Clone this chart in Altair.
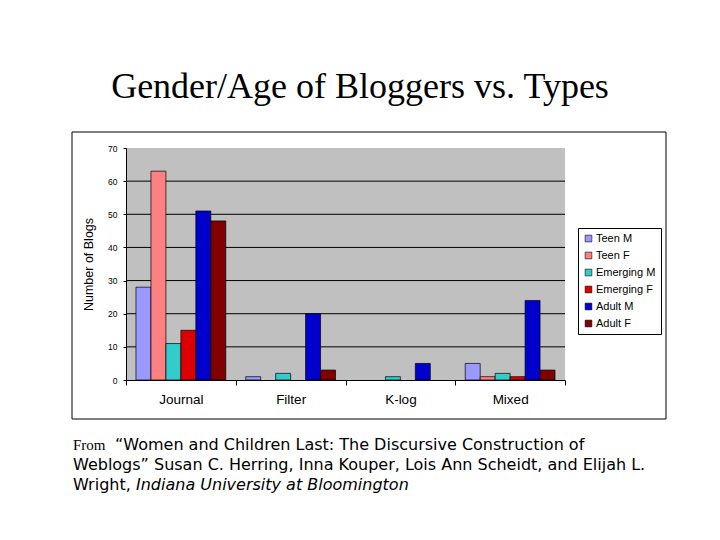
import altair as alt
import pandas as pd

categories = ["Journal", "Filter", "K-log", "Mixed"]
series = ["Teen M", "Teen F", "Emerging M", "Emerging F", "Adult M", "Adult F"]
teen_m = [28, 1, 0, 5]
teen_f = [63, 0, 0, 1]
emerging_m = [11, 2, 1, 2]
emerging_f = [15, 0, 0, 1]
adult_m = [51, 20, 5, 24]
adult_f = [48, 3, 0, 3]
colors = ["#9999FF", "#FF8080", "#33CCCC", "#DD0000", "#0000CC", "#800000"]
grid_values = [10, 20, 30, 40, 50, 60]
y_ticks = [0, 10, 20, 30, 40, 50, 60, 70]

title_text = "Gender/Age of Bloggers vs. Types"
caption_from = "From"
caption_1 = "\u201cWomen and Children Last: The Discursive Construction of"
caption_2 = "Weblogs\u201d Susan C. Herring, Inna Kouper, Lois Ann Scheidt, and Elijah L."
caption_3a = "Wright,"
caption_3b = "Indiana University at Bloomington"

rows = []
for s, vals in zip(series, [teen_m, teen_f, emerging_m, emerging_f, adult_m, adult_f]):
    for c, v in zip(categories, vals):
        rows.append({"type": c, "group": s, "value": v})
df = pd.DataFrame(rows)

W, H = 439, 232
yscale = alt.Scale(domain=[0, 70], nice=False)

y_axis = alt.Axis(title="Number of Blogs", values=y_ticks, grid=False,
                  labelOverlap=False, labelFlush=False,
                  labelFont="Liberation Sans", labelFontSize=8.5,
                  labelColor="black", titleFont="Liberation Sans",
                  titleFontSize=12.5, titleFontWeight="normal",
                  titleColor="black", titlePadding=12,
                  domainColor="black", tickColor="black", tickSize=3,
                  labelPadding=6, zindex=1)

frame = alt.Chart(alt.Data(values=[{}])).mark_rect(
    fill="white", stroke="black", strokeWidth=1
).encode(x=alt.value(-54), x2=alt.value(540), y=alt.value(-16), y2=alt.value(271))

plotbg = alt.Chart(alt.Data(values=[{}])).mark_rect(fill="#C0C0C0").encode(
    x=alt.value(0), x2=alt.value(W), y=alt.value(0), y2=alt.value(H)
)

grid = alt.Chart(pd.DataFrame({"g": grid_values})).mark_rule(
    color="black", strokeWidth=1
).encode(y=alt.Y("g:Q", scale=yscale, axis=y_axis), x=alt.value(0), x2=alt.value(W))

bars = alt.Chart(df).transform_filter("datum.value > 0").mark_bar(
    stroke="black", strokeWidth=0.7
).encode(
    x=alt.X("type:N", sort=categories,
            scale=alt.Scale(paddingInner=0, paddingOuter=0),
            axis=alt.Axis(title=None, labelAngle=0, tickBand="extent",
                          labelFont="Liberation Sans", labelFontSize=13.5,
                          labelColor="black", labelPadding=7,
                          domainColor="black", tickColor="black", tickSize=5,
                          zindex=1)),
    xOffset=alt.XOffset("group:N", sort=series,
                        scale=alt.Scale(paddingInner=0, paddingOuter=0.667)),
    y=alt.Y("value:Q", scale=yscale, axis=y_axis),
    color=alt.Color("group:N", sort=series,
                    scale=alt.Scale(domain=series, range=colors),
                    legend=alt.Legend(orient="none", legendX=452, legendY=80,
                                      title=None, strokeColor="black",
                                      fillColor="white", padding=5,
                                      symbolType="square", symbolSize=45,
                                      symbolStrokeColor="black",
                                      symbolStrokeWidth=0.6, symbolOpacity=1,
                                      labelFont="Liberation Sans",
                                      labelFontSize=11, labelColor="black",
                                      rowPadding=5, labelOffset=2)),
)

title = alt.Chart(alt.Data(values=[{"t": title_text}])).mark_text(
    font="Liberation Serif", fontSize=36, color="black", align="center",
    baseline="alphabetic"
).encode(text="t:N", x=alt.value(234), y=alt.value(-50))

cap_from = alt.Chart(alt.Data(values=[{"t": caption_from}])).mark_text(
    font="Liberation Serif", fontSize=15, color="black", align="left",
    baseline="alphabetic"
).encode(text="t:N", x=alt.value(-53), y=alt.value(302))

cap_lines = alt.Chart(pd.DataFrame({
    "t": [caption_1, caption_2, caption_3a],
    "px": [-11, -53, -53],
    "py": [302, 322, 342],
})).mark_text(
    font="DejaVu Sans", fontSize=16, color="black", align="left",
    baseline="alphabetic"
).encode(text="t:N", x=alt.X("px:Q", scale=None), y=alt.Y("py:Q", scale=None))

cap_italic = alt.Chart(alt.Data(values=[{"t": caption_3b}])).mark_text(
    font="DejaVu Sans", fontSize=16, fontStyle="italic", color="black",
    align="left", baseline="alphabetic"
).encode(text="t:N", x=alt.value(10), y=alt.value(342))

chart = alt.layer(frame, plotbg, grid, bars, title, cap_from, cap_lines, cap_italic).properties(
    width=W, height=H,
    autosize=alt.AutoSizeParams(type="none"),
    padding={"left": 118, "top": 140, "right": 147, "bottom": 152},
).configure_view(stroke=None).configure(background="white")

chart.save("out.html", embed_options={"renderer": "svg", "actions": False})
